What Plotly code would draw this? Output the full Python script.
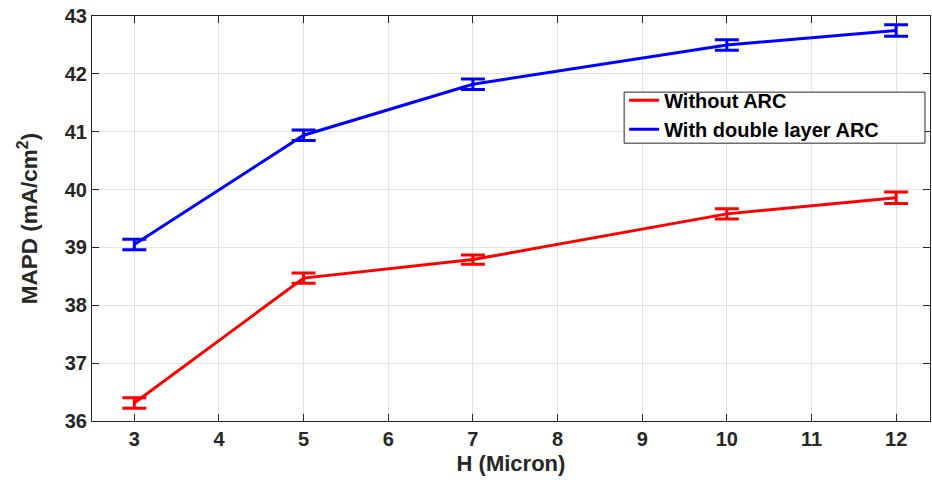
import plotly.graph_objects as go

# Waveguide height (micron) and MAPD values
h_values = [3, 5, 7, 10, 12]
mapd_no_arc = [36.31, 38.47, 38.79, 39.58, 39.86]
mapd_dl_arc = [39.05, 40.94, 41.82, 42.50, 42.75]
err_no_arc = [0.09, 0.09, 0.08, 0.09, 0.1]
err_dl_arc = [0.09, 0.09, 0.09, 0.09, 0.1]

font_family = "Liberation Sans, Arial, Helvetica, sans-serif"

fig = go.Figure()
fig.add_trace(go.Scatter(
    x=h_values, y=mapd_no_arc, mode="lines", name="Without ARC",
    line=dict(color="#ff0000", width=3),
    error_y=dict(type="data", array=err_no_arc, color="#ff0000", thickness=3, width=12),
))
fig.add_trace(go.Scatter(
    x=h_values, y=mapd_dl_arc, mode="lines", name="With double layer ARC",
    line=dict(color="#0000ff", width=3),
    error_y=dict(type="data", array=err_dl_arc, color="#0000ff", thickness=3, width=12),
))

axis_common = dict(
    showline=True, linecolor="#262626", linewidth=1, mirror="ticks",
    ticks="inside", ticklen=7, tickcolor="#262626",
    showgrid=True, gridcolor="#e3e3e3", gridwidth=1, zeroline=False,
    tickfont=dict(family=font_family, size=20, color="#262626", weight="bold"),
)

# Legend frame, wider than the entries themselves
fig.add_shape(
    type="rect", xref="paper", yref="paper",
    x0=0.635, x1=0.994, y0=0.686, y1=0.812,
    line=dict(color="#262626", width=1), fillcolor="white", layer="above",
)

fig.update_layout(
    width=932, height=486,
    margin=dict(l=92, r=2, t=16, b=65),
    paper_bgcolor="white", plot_bgcolor="white",
    font=dict(family=font_family, color="#262626"),
    xaxis=dict(
        range=[2.5, 12.4], tickvals=[3, 4, 5, 6, 7, 8, 9, 10, 11, 12],
        title=dict(text="<b>H (Micron)</b>", font=dict(size=22, color="#262626"), standoff=6),
        **axis_common,
    ),
    yaxis=dict(
        range=[36, 43], tickvals=[36, 37, 38, 39, 40, 41, 42, 43],
        title=dict(text="<b>MAPD (mA/cm<sup>2</sup>)</b>", font=dict(size=22.5, color="#262626"), standoff=20),
        **axis_common,
    ),
    legend=dict(
        x=0.635, y=0.84, xanchor="left", yanchor="top",
        bgcolor="rgba(0,0,0,0)", borderwidth=0,
        font=dict(family=font_family, size=20, color="black", weight="bold"),
        tracegroupgap=0, itemwidth=30,
    ),
    showlegend=True,
)

fig.write_html("out.html")
